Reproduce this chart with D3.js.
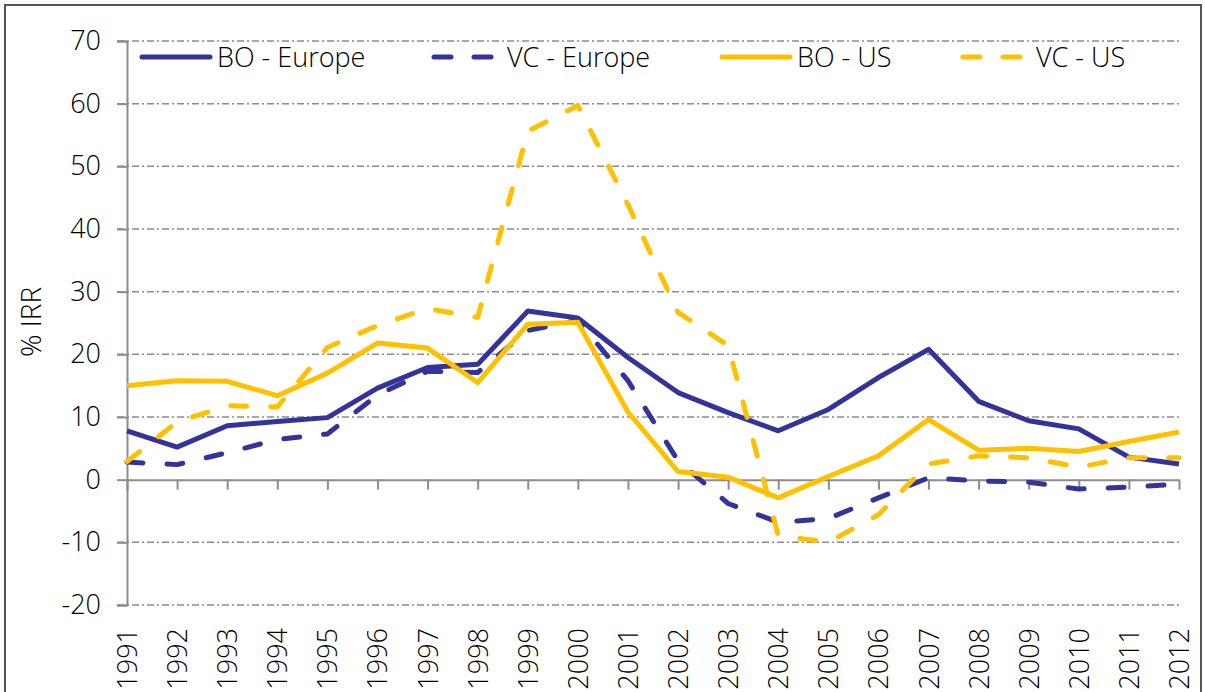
<!DOCTYPE html>
<html>
<head>
<meta charset="utf-8">
<script src="https://cdn.jsdelivr.net/npm/d3@7"></script>
<style>
  html, body { margin: 0; padding: 0; background: #fff; }
  svg { display: block; font-family: "Open Sans", "Lato", sans-serif; font-weight: 300; }
</style>
</head>
<body>
<div id="chart"></div>
<script>
// data
const years = d3.range(1991, 2013);
const boEurope = [7.8, 5.2, 8.6, 9.3, 9.9, 14.6, 17.9, 18.4, 26.9, 25.8, 19.5, 13.9, 10.7, 7.8, 11.2, 16.3, 20.8, 12.5, 9.4, 8.1, 3.6, 2.5];
const vcEurope = [2.8, 2.4, 4.3, 6.4, 7.3, 13.5, 17.3, 17.1, 23.8, 25.4, 15.8, 3.0, -3.8, -6.8, -6.2, -2.9, 0.3, -0.2, -0.4, -1.5, -1.2, -0.7];
const boUS = [15.0, 15.8, 15.7, 13.4, 17.0, 21.8, 21.0, 15.5, 24.8, 25.1, 10.8, 1.3, 0.4, -2.9, 0.5, 3.8, 9.6, 4.7, 5.0, 4.5, 6.1, 7.6];
const vcUS = [2.9, 9.2, 11.8, 11.6, 21.1, 24.6, 27.3, 25.9, 55.6, 59.7, 43.9, 26.7, 21.4, -8.9, -10.0, -5.6, 2.5, 3.8, 3.5, 2.0, 3.5, 3.5];
const yTicks = [-20, -10, 0, 10, 20, 30, 40, 50, 60, 70];

const series = [
  { name: 'BO - Europe', values: boEurope, color: '#333399', dashed: false },
  { name: 'VC - Europe', values: vcEurope, color: '#333399', dashed: true },
  { name: 'BO - US', values: boUS, color: '#FFC000', dashed: false },
  { name: 'VC - US', values: vcUS, color: '#FFC000', dashed: true }
];

const width = 1205, height = 692;
const plot = { left: 127, right: 1179, top: 41, bottom: 605 };

const svg = d3.select('#chart').append('svg')
  .attr('width', width)
  .attr('height', height);

// outer frame
svg.append('rect')
  .attr('x', 5).attr('y', 5)
  .attr('width', 1196).attr('height', 700)
  .attr('fill', 'none')
  .attr('stroke', '#555')
  .attr('stroke-width', 2);

const x = d3.scalePoint().domain(years).range([plot.left, plot.right]);
const y = d3.scaleLinear().domain([-20, 70]).range([plot.bottom, plot.top]);

// gridlines (dash-dot)
svg.append('g')
  .selectAll('line')
  .data(yTicks.filter(d => d !== 0))
  .join('line')
  .attr('x1', plot.left - 10).attr('x2', plot.right)
  .attr('y1', d => y(d)).attr('y2', d => y(d))
  .attr('stroke', '#8c8c8c')
  .attr('stroke-width', 1.5)
  .attr('stroke-dasharray', '7,3,2,3');

// y axis
const yAxis = svg.append('g')
  .attr('transform', `translate(${plot.left},0)`)
  .call(d3.axisLeft(y).tickValues(yTicks).tickSize(10).tickPadding(16).tickFormat(d => String(d)));
yAxis.select('.domain').attr('stroke', '#8c8c8c').attr('stroke-width', 2);
yAxis.selectAll('.tick line').attr('stroke', '#8c8c8c').attr('stroke-width', 2);
yAxis.selectAll('.tick text')
  .attr('fill', '#000')
  .style('font-size', '27px')
  .style('font-family', '"Open Sans", sans-serif')
  .style('font-weight', 300);

// x axis along zero line
const xAxis = svg.append('g')
  .attr('transform', `translate(0,${y(0)})`)
  .call(d3.axisBottom(x).tickSize(10).tickSizeOuter(0).tickFormat(d => ''));
xAxis.select('.domain').attr('stroke', '#8c8c8c').attr('stroke-width', 2);
xAxis.selectAll('.tick line').attr('stroke', '#8c8c8c').attr('stroke-width', 2);

// year labels below plot, rotated
svg.append('g')
  .selectAll('text')
  .data(years)
  .join('text')
  .attr('transform', d => `translate(${x(d) + 10},${plot.bottom + 23}) rotate(-90)`)
  .attr('text-anchor', 'end')
  .style('font-size', '27px')
  .attr('fill', '#000')
  .text(d => d);

// y axis title
svg.append('text')
  .attr('transform', `translate(41,322) rotate(-90)`)
  .attr('text-anchor', 'middle')
  .style('font-size', '28px')
  .attr('fill', '#000')
  .text('% IRR');

// lines
const line = d3.line()
  .x((d, i) => x(years[i]))
  .y(d => y(d));

svg.append('g')
  .selectAll('path')
  .data(series)
  .join('path')
  .attr('d', d => line(d.values))
  .attr('fill', 'none')
  .attr('stroke', d => d.color)
  .attr('stroke-width', 5)
  .attr('stroke-linejoin', 'round')
  .attr('stroke-linecap', d => d.dashed ? 'round' : 'butt')
  .attr('stroke-dasharray', d => d.dashed ? '16,24' : null);

// legend
const legendX = [140, 432, 720, 961];
const legend = svg.append('g')
  .selectAll('g')
  .data(series)
  .join('g')
  .attr('transform', (d, i) => `translate(${legendX[i]},57)`);

legend.append('line')
  .attr('x1', 2).attr('x2', 70)
  .attr('stroke', d => d.color)
  .attr('stroke-width', 5)
  .attr('stroke-linecap', 'round')
  .attr('stroke-dasharray', d => d.dashed ? '17,23' : null);

legend.append('text')
  .attr('x', d => d.dashed ? 75 : 77)
  .attr('y', 10)
  .style('font-size', '27px')
  .attr('fill', '#000')
  .text(d => d.name);
</script>
</body>
</html>
